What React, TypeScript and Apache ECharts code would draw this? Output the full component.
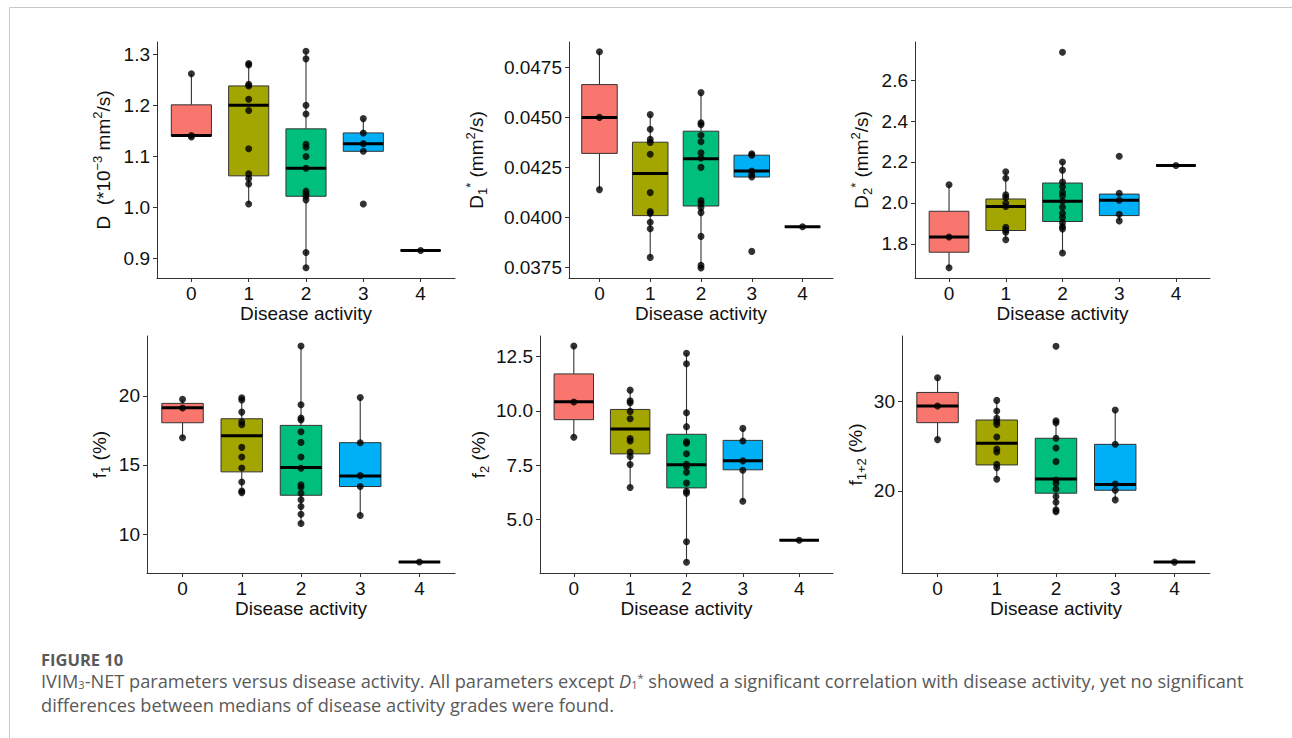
import React, { useEffect, useRef } from 'react';
import * as echarts from 'echarts';

// ---------- data ----------
const categories = ['0', '1', '2', '3', '4'];
const groupColors = ['#F8766D', '#A3A500', '#00BF7D', '#00B0F6', '#E76BF3'];

// box stats per group: [lower whisker, Q1, median, Q3, upper whisker]
const dBoxes = [
  [1.138, 1.140, 1.141, 1.201, 1.262],
  [1.007, 1.062, 1.200, 1.238, 1.282],
  [0.882, 1.022, 1.077, 1.154, 1.306],
  [1.110, 1.110, 1.125, 1.146, 1.174],
  [0.916, 0.916, 0.916, 0.916, 0.916],
];
const dPoints = [
  [1.262, 1.141, 1.138],
  [1.282, 1.279, 1.241, 1.238, 1.212, 1.190, 1.115, 1.066, 1.057, 1.046, 1.007],
  [1.306, 1.291, 1.200, 1.183, 1.124, 1.118, 1.100, 1.077, 1.032, 1.027, 1.022, 1.015, 0.912, 0.882],
  [1.174, 1.146, 1.125, 1.110, 1.007],
  [0.916],
];
const dTicks = [0.9, 1.0, 1.1, 1.2, 1.3];

const d1Boxes = [
  [0.04139, 0.04320, 0.04500, 0.04664, 0.04828],
  [0.03800, 0.04009, 0.04220, 0.04376, 0.04514],
  [0.03747, 0.04057, 0.04293, 0.04431, 0.04624],
  [0.04202, 0.04202, 0.04232, 0.04311, 0.04318],
  [0.03953, 0.03953, 0.03953, 0.03953, 0.03953],
];
const d1Points = [
  [0.04828, 0.04500, 0.04139],
  [0.04514, 0.04441, 0.04391, 0.04375, 0.04316, 0.04124, 0.04029, 0.04021, 0.03976, 0.03943, 0.03800],
  [0.04624, 0.04473, 0.04463, 0.04411, 0.04378, 0.04323, 0.04297, 0.04250, 0.04084, 0.04070, 0.04049, 0.04024, 0.03905, 0.03760, 0.03747],
  [0.04318, 0.04311, 0.04232, 0.04215, 0.04202, 0.03830],
  [0.03953],
];
const d1Ticks = [0.0375, 0.04, 0.0425, 0.045, 0.0475];

const d2Boxes = [
  [1.683, 1.759, 1.833, 1.959, 2.089],
  [1.820, 1.865, 1.982, 2.019, 2.152],
  [1.755, 1.909, 2.008, 2.097, 2.201],
  [1.912, 1.938, 2.013, 2.043, 2.047],
  [2.183, 2.183, 2.183, 2.183, 2.183],
];
const d2Points = [
  [2.089, 1.833, 1.683],
  [2.152, 2.120, 2.039, 2.026, 1.998, 1.982, 1.881, 1.868, 1.857, 1.820],
  [2.736, 2.200, 2.160, 2.102, 2.079, 2.052, 2.035, 2.008, 1.979, 1.949, 1.928, 1.904, 1.884, 1.873, 1.755],
  [2.228, 2.047, 2.013, 1.944, 1.912],
  [2.183],
];
const d2Ticks = [1.8, 2.0, 2.2, 2.4, 2.6];

const f1Boxes = [
  [16.97, 18.05, 19.13, 19.45, 19.74],
  [13.00, 14.50, 17.11, 18.34, 19.86],
  [10.77, 12.81, 14.81, 17.86, 23.60],
  [11.35, 13.44, 14.21, 16.61, 19.88],
  [7.98, 7.98, 7.98, 7.98, 7.98],
];
const f1Points = [
  [19.74, 19.11, 16.97],
  [19.86, 19.69, 18.82, 18.12, 17.91, 16.27, 15.58, 14.78, 13.77, 13.12, 13.00],
  [23.60, 19.35, 18.39, 18.25, 17.40, 16.63, 15.58, 14.76, 13.56, 13.39, 12.96, 12.48, 12.00, 11.44, 10.77],
  [19.88, 16.61, 14.23, 13.44, 11.35],
  [7.98],
];
const f1Ticks = [10, 15, 20];

const f2Boxes = [
  [8.78, 9.59, 10.41, 11.69, 12.97],
  [6.48, 8.02, 9.16, 10.06, 10.945],
  [3.05, 6.46, 7.52, 8.92, 12.64],
  [5.85, 7.29, 7.70, 8.64, 9.19],
  [4.055, 4.055, 4.055, 4.055, 4.055],
];
const f2Points = [
  [12.97, 10.40, 8.78],
  [10.945, 10.46, 10.37, 9.97, 9.63, 8.73, 8.61, 8.11, 7.90, 7.53, 6.48],
  [12.64, 12.16, 9.91, 9.27, 8.58, 8.51, 8.03, 7.54, 7.44, 7.18, 6.68, 6.31, 6.22, 3.99, 3.05],
  [9.19, 8.61, 7.70, 7.27, 5.85],
  [4.055],
];
const f2Ticks = [5.0, 7.5, 10.0, 12.5];

const f12Boxes = [
  [25.75, 27.65, 29.51, 31.04, 32.69],
  [21.31, 22.91, 25.34, 27.95, 30.15],
  [17.65, 19.74, 21.34, 25.90, 27.84],
  [18.99, 20.07, 20.71, 25.22, 29.07],
  [12.01, 12.01, 12.01, 12.01, 12.01],
];
const f12Points = [
  [32.69, 29.51, 25.75],
  [30.15, 28.96, 28.13, 27.76, 27.46, 26.04, 24.70, 24.37, 22.99, 22.61, 21.31],
  [36.23, 27.87, 27.65, 25.90, 24.81, 23.28, 21.23, 20.86, 20.22, 19.37, 18.73, 17.87, 17.65],
  [29.07, 25.22, 20.78, 20.07, 18.99],
  [12.01],
];
const f12Ticks = [20, 30];

const xTicks = [0, 1, 2, 3, 4];
const xAxisTitle = 'Disease activity';
const captionHead = 'FIGURE 10';
const captionText =
  '{n|IVIM}{sub|3}{n|-NET parameters versus disease activity. All parameters except }{it|D}{sub|1}{sup|*}' +
  '{n| showed a significant correlation with disease activity, yet no significant}\n' +
  '{n|differences between medians of disease activity grades were found.}';

// ---------- layout / styles ----------
const FONT = '"Liberation Sans", Arial, Helvetica, sans-serif';
const CAP_FONT = '"Open Sans", "Noto Sans", sans-serif';
const FS = 19;
const TXT = '#111111';
const AX = '#333333';
const CAP_COL = '#595959';

const panels = [
  { boxes: dBoxes, points: dPoints, ticks: dTicks, digits: 1, min: 0.862, max: 1.324,
    title: '{n|D  (*10}{sup|−3}{n| mm}{sup|2}{n|/s)}', left: 157, top: 42, width: 298, height: 236, nameGap: 41 },
  { boxes: d1Boxes, points: d1Points, ticks: d1Ticks, digits: 4, min: 0.03697, max: 0.04877,
    title: '{n|D}{sub|1}{sup|*}{n| (mm}{sup|2}{n|/s)}', left: 569, top: 42, width: 264, height: 236, nameGap: 80 },
  { boxes: d2Boxes, points: d2Points, ticks: d2Ticks, digits: 1, min: 1.633, max: 2.786,
    title: '{n|D}{sub|2}{sup|*}{n| (mm}{sup|2}{n|/s)}', left: 915, top: 42, width: 295, height: 236, nameGap: 41 },
  { boxes: f1Boxes, points: f1Points, ticks: f1Ticks, digits: 0, min: 7.19, max: 24.32,
    title: '{n|f}{sub|1}{n| (%)}', left: 147, top: 336, width: 308, height: 237, nameGap: 35 },
  { boxes: f2Boxes, points: f2Points, ticks: f2Ticks, digits: 1, min: 2.555, max: 13.43,
    title: '{n|f}{sub|2}{n| (%)}', left: 540, top: 336, width: 293, height: 237, nameGap: 49 },
  { boxes: f12Boxes, points: f12Points, ticks: f12Ticks, digits: 0, min: 10.79, max: 37.37,
    title: '{n|f}{sub|1+2}{n| (%)}', left: 902, top: 336, width: 308, height: 237, nameGap: 34 },
];

const richTitle = {
  n: { fontSize: FS, lineHeight: 25, fontFamily: FONT, color: TXT },
  sup: { fontSize: 13, lineHeight: 12, fontFamily: FONT, color: TXT, verticalAlign: 'top' },
  sub: { fontSize: 13, lineHeight: 12, fontFamily: FONT, color: TXT, verticalAlign: 'bottom' },
};

function buildOption() {
  const grid = panels.map((p) => ({
    left: p.left, top: p.top, width: p.width, height: p.height, outerBoundsMode: 'none', containLabel: false,
  }));
  const xAxis = panels.map((p, i) => ({
    type: 'value', gridIndex: i, min: -0.6, max: 4.6,
    name: xAxisTitle, nameLocation: 'middle', nameGap: 26,
    nameTextStyle: { fontSize: FS, fontFamily: FONT, color: TXT },
    axisLine: { show: true, onZero: false, lineStyle: { color: AX, width: 1 } },
    axisTick: { show: true, customValues: xTicks, length: 4, lineStyle: { color: AX, width: 1 } },
    axisLabel: {
      customValues: xTicks, margin: 6, fontSize: FS, fontFamily: FONT, color: TXT,
      formatter: (v: number) => categories[Math.round(v)] ?? '',
    },
    splitLine: { show: false },
  }));
  const yAxis = panels.map((p, i) => ({
    type: 'value', gridIndex: i, min: p.min, max: p.max,
    name: p.title, nameLocation: 'middle', nameRotate: 90, nameGap: p.nameGap,
    nameTextStyle: { fontSize: FS, fontFamily: FONT, color: TXT, rich: richTitle },
    axisLine: { show: true, onZero: false, lineStyle: { color: AX, width: 1 } },
    axisTick: { show: true, customValues: p.ticks, length: 4, lineStyle: { color: AX, width: 1 } },
    axisLabel: {
      customValues: p.ticks, margin: 7, fontSize: FS, fontFamily: FONT, color: TXT,
      formatter: (v: number) => v.toFixed(p.digits),
    },
    splitLine: { show: false },
  }));

  const series: any[] = [];
  panels.forEach((p, i) => {
    series.push({
      type: 'custom', xAxisIndex: i, yAxisIndex: i, z: 2,
      encode: { x: 0, y: [1, 2, 3, 4, 5] },
      data: p.boxes.map((b, gi) => [gi, ...b]),
      renderItem: (params: any, api: any) => {
        const x = api.value(0);
        const gi = Math.round(x);
        const pLo = api.coord([x, api.value(1)]);
        const pQ1 = api.coord([x, api.value(2)]);
        const pMed = api.coord([x, api.value(3)]);
        const pQ3 = api.coord([x, api.value(4)]);
        const pHi = api.coord([x, api.value(5)]);
        const half = api.size([0.7, 0])[0] / 2;
        const cx = pMed[0];
        return {
          type: 'group',
          children: [
            { type: 'line', shape: { x1: cx, y1: pHi[1], x2: cx, y2: pQ3[1] }, style: { stroke: AX, lineWidth: 1.1 } },
            { type: 'line', shape: { x1: cx, y1: pQ1[1], x2: cx, y2: pLo[1] }, style: { stroke: AX, lineWidth: 1.1 } },
            { type: 'rect', shape: { x: cx - half, y: pQ3[1], width: half * 2, height: pQ1[1] - pQ3[1] },
              style: { fill: groupColors[gi], stroke: AX, lineWidth: 1 } },
            { type: 'line', shape: { x1: cx - half, y1: pMed[1], x2: cx + half, y2: pMed[1] },
              style: { stroke: '#000000', lineWidth: 3 } },
          ],
        };
      },
    });
    series.push({
      type: 'scatter', xAxisIndex: i, yAxisIndex: i, z: 3,
      symbol: 'circle', symbolSize: 7,
      itemStyle: { color: '#000000' },
      data: p.points.flatMap((arr, gi) => arr.map((v) => [gi, v])),
    });
  });

  const graphic = [
    { type: 'line', shape: { x1: 9.5, y1: 7.5, x2: 1292, y2: 7.5 }, style: { stroke: '#c8c8c8', lineWidth: 1 }, silent: true },
    { type: 'line', shape: { x1: 9.5, y1: 7.5, x2: 9.5, y2: 738 }, style: { stroke: '#c8c8c8', lineWidth: 1 }, silent: true },
    {
      type: 'text', x: 41, y: 659,
      style: { text: captionHead, fontFamily: CAP_FONT, fontSize: 16.5, fontWeight: 'bold', fill: CAP_COL, verticalAlign: 'middle' },
    },
    {
      type: 'text', x: 41, y: 693,
      style: {
        text: captionText,
        verticalAlign: 'middle',
        rich: {
          n: { fontFamily: CAP_FONT, fontSize: 18.2, lineHeight: 24, fill: CAP_COL },
          it: { fontFamily: CAP_FONT, fontSize: 18.2, lineHeight: 24, fill: CAP_COL, fontStyle: 'italic' },
          sub: { fontFamily: CAP_FONT, fontSize: 11, lineHeight: 11, fill: CAP_COL, verticalAlign: 'middle', padding: [6, 0, 0, 0] },
          sup: { fontFamily: CAP_FONT, fontSize: 11, lineHeight: 11, fill: CAP_COL, verticalAlign: 'middle', padding: [0, 0, 8, 0] },
        },
      },
    },
  ];

  return { animation: false, backgroundColor: '#ffffff', grid, xAxis, yAxis, series, graphic };
}

export default function App() {
  const ref = useRef<HTMLDivElement | null>(null);
  useEffect(() => {
    if (!ref.current) return;
    const chart = echarts.init(ref.current, undefined, { renderer: 'svg' });
    chart.setOption(buildOption() as any);
    return () => chart.dispose();
  }, []);
  return (
    <div
      ref={ref}
      style={{ position: 'absolute', left: 0, top: 0, width: 1292, height: 738, background: '#fff' }}
    />
  );
}
